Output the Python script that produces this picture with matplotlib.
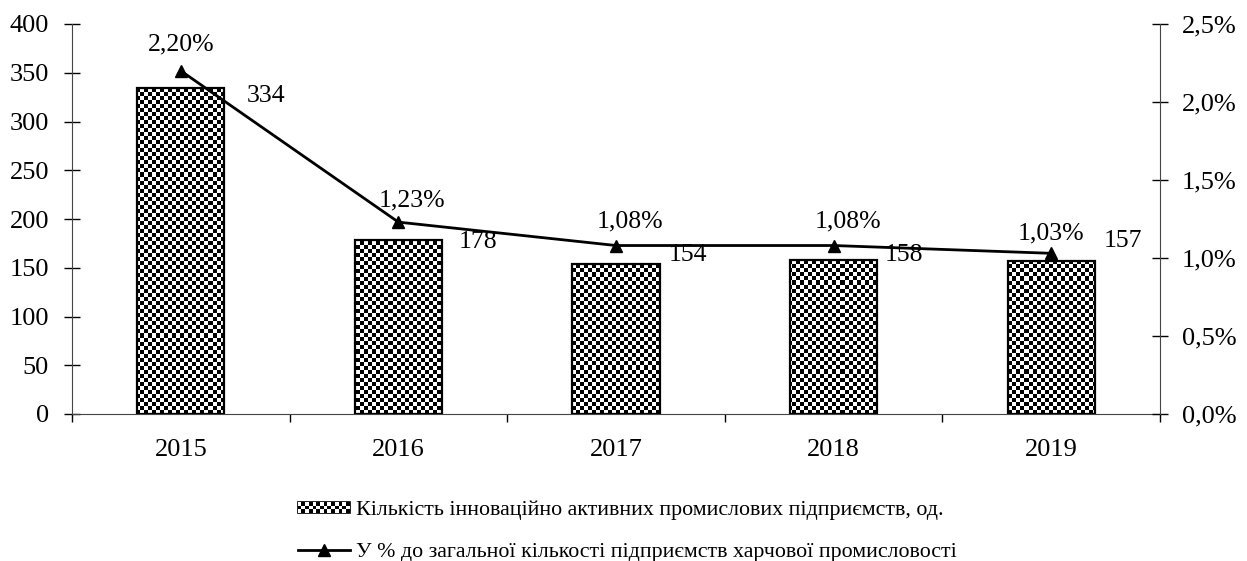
#!/usr/bin/env python3
"""
Innovation-active food industry enterprises, 2015-2019: bars + share line.
"""
import numpy as np
import matplotlib
matplotlib.use("Agg")
import matplotlib.pyplot as plt
from matplotlib.ticker import FuncFormatter, MultipleLocator
from matplotlib.lines import Line2D
from matplotlib.patches import Patch, Rectangle
from matplotlib.legend_handler import HandlerBase

years = ["2015", "2016", "2017", "2018", "2019"]
counts = [334, 178, 154, 158, 157]
shares = [2.20, 1.23, 1.08, 1.08, 1.03]
bar_label = "Кількість інноваційно активних промислових підприємств, од."
line_label = "У % до загальної кількості підприємств харчової промисловості"

plt.rcParams["font.family"] = ["Liberation Serif", "DejaVu Serif"]
FS_TICK = 19
FS_LAB = 18.5
FS_LEG = 15.8


class CheckerHandler(HandlerBase):
    # small checkerboard box for the bar series
    def create_artists(self, legend, orig, xd, yd, width, height, fontsize, trans):
        arts = [Rectangle((-xd, -yd), width, height, facecolor="black",
                          edgecolor="black", lw=1.2, transform=trans)]
        n, m = 14, 3
        cw, ch = width / n, height / m
        for i in range(n):
            for j in range(m):
                if (i + j) % 2 == 0:
                    arts.append(Rectangle((-xd + i * cw, -yd + j * ch), cw, ch,
                                          facecolor="white", lw=0, transform=trans))
        return arts


W, H = 1247, 561
fig = plt.figure(figsize=(W / 100, H / 100), dpi=100)
L, R, T, B = 72, 1160, 24, 414
ax = fig.add_axes([L / W, 1 - B / H, (R - L) / W, (B - T) / H])
ax2 = ax.twinx()

x = np.arange(len(years))
bars = ax.bar(x, counts, width=0.4, facecolor="none", edgecolor="black",
              linewidth=1.6, zorder=3)

# checkerboard fill, clipped to each bar
cell = 4
nx, ny = (R - L) // cell, (B - T) // cell
checker = (np.indices((ny, nx)).sum(axis=0) % 2).astype(float)
for b in bars:
    im = ax.imshow(checker, cmap="gray", interpolation="nearest",
                   extent=[0, 1, 0, 1], transform=ax.transAxes,
                   aspect="auto", zorder=2)
    im.set_clip_path(b)

ax.set_xlim(-0.5, len(years) - 0.5)
ax.set_ylim(0, 400)
ax.yaxis.set_major_locator(MultipleLocator(50))
ax.set_xticks(x)
ax.set_xticklabels(years)
ax.set_xticks(np.arange(len(years) + 1) - 0.5, minor=True)
ax.tick_params(axis="x", which="major", length=0, pad=18, labelsize=FS_TICK)
ax.tick_params(axis="x", which="minor", length=6, direction="out", width=1)
ax.tick_params(axis="y", direction="inout", length=11, width=1, labelsize=FS_TICK, pad=11)
for s in ["top", "right"]:
    ax.spines[s].set_visible(False)
ax.spines["left"].set_color("#444444")
ax.spines["bottom"].set_color("#444444")

ax2.plot(x, shares, color="black", lw=2, marker="^", markersize=9, zorder=4)
ax2.set_ylim(0, 2.5)
ax2.yaxis.set_major_locator(MultipleLocator(0.5))
ax2.yaxis.set_major_formatter(FuncFormatter(lambda v, p: f"{v:.1f}%".replace(".", ",")))
ax2.tick_params(axis="y", direction="inout", length=11, width=1, labelsize=FS_TICK, pad=10)
for s in ["top", "left", "bottom"]:
    ax2.spines[s].set_visible(False)
ax2.spines["right"].set_color("#444444")

# data labels
count_off = [(42, -8), (36, -2), (28, 9), (27, 5), (28, 20)]
share_off = [(0, 26), (14, 22), (14, 24), (14, 24), (0, 20)]
for i in range(len(years)):
    ax.annotate(str(counts[i]), (x[i] + 0.2, counts[i]), xytext=count_off[i],
                textcoords="offset pixels", ha="center", va="center", fontsize=FS_LAB)
    ax2.annotate(f"{shares[i]:.2f}%".replace(".", ","), (x[i], shares[i]),
                 xytext=share_off[i], textcoords="offset pixels",
                 ha="center", va="center", fontsize=FS_LAB)

bar_handle = Patch(facecolor="white", edgecolor="black")
line_handle = Line2D([], [], color="black", lw=2, marker="^", markersize=8)
fig.legend([bar_handle, line_handle], [bar_label, line_label], loc="upper left",
           bbox_to_anchor=(289 / W, 1 - 492 / H), frameon=False, fontsize=FS_LEG,
           handlelength=2.37, handleheight=0.41, handletextpad=0.27,
           labelspacing=1.02, borderaxespad=0,
           handler_map={Patch: CheckerHandler()})

fig.savefig("out.png", dpi=100)
